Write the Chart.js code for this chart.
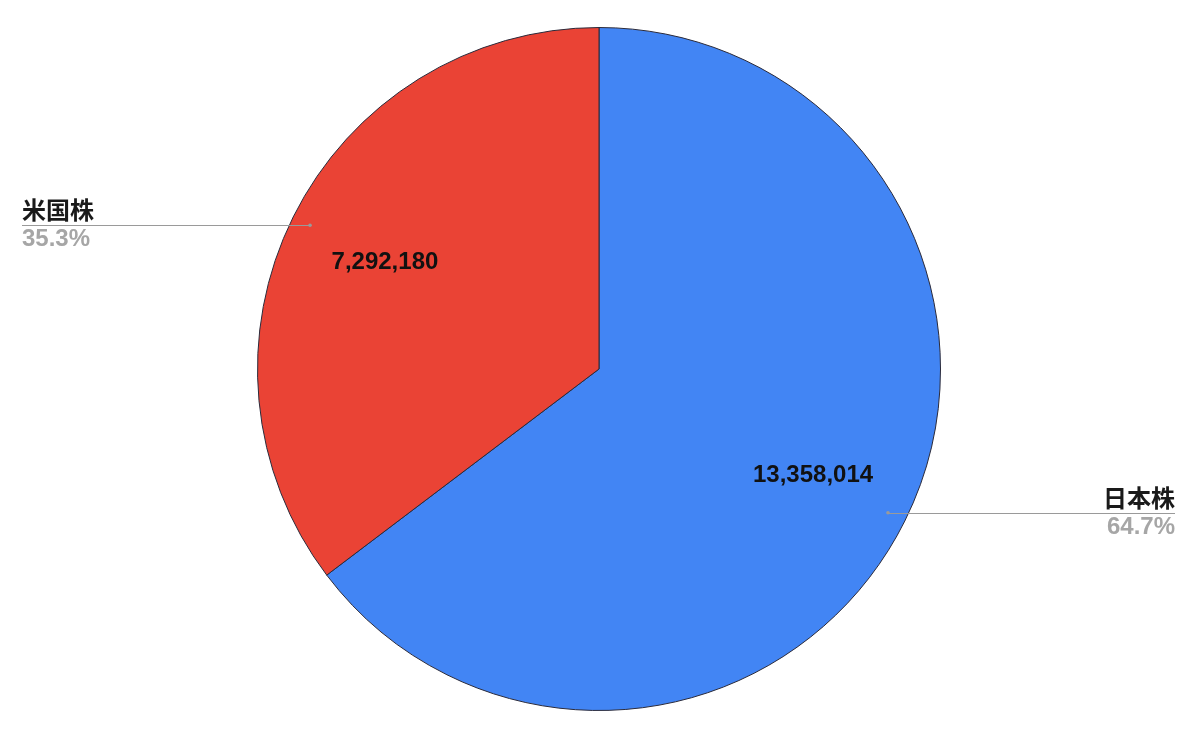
<!DOCTYPE html>
<html>
<head>
<meta charset="utf-8">
<script src="https://cdn.jsdelivr.net/npm/chart.js@4"></script>
<style>
  html, body { margin: 0; padding: 0; background: #fff; }
  #wrap { width: 1200px; height: 734px; }
</style>
</head>
<body>
<div id="wrap"><canvas id="myChart" width="1200" height="734"></canvas></div>
<script>
const labels = ['日本株', '米国株'];
const values = [13358014, 7292180];
const colors = ['#4285f4', '#ea4335'];

const fontStack = '"Liberation Sans", Arial, "Noto Sans CJK JP", sans-serif';

// leader lines, names, percents and values drawn on top of the pie
const sliceLabels = {
    id: 'sliceLabels',
    afterDatasetsDraw(chart) {
        const ctx = chart.ctx;
        const meta = chart.getDatasetMeta(0);
        const total = values.reduce((a, b) => a + b, 0);
        meta.data.forEach((arc, i) => {
            const mid = (arc.startAngle + arc.endAngle) / 2;
            const r = arc.outerRadius;
            const cx = arc.x, cy = arc.y;
            const cos = Math.cos(mid), sin = Math.sin(mid);

            // value inside slice
            ctx.save();
            ctx.font = 'bold 24px ' + fontStack;
            ctx.fillStyle = '#111';
            ctx.textAlign = 'center';
            ctx.textBaseline = 'middle';
            ctx.fillText(values[i].toLocaleString('en-US'), cx + cos * r * 0.7, cy + sin * r * 0.7);

            // leader line
            const px = cx + cos * r * 0.945;
            const py = cy + sin * r * 0.945;
            const right = cos > 0;
            const endX = right ? 1175 : 22;
            ctx.strokeStyle = '#9a9a9a';
            ctx.lineWidth = 1;
            ctx.beginPath();
            ctx.moveTo(px, Math.round(py) + 0.5);
            ctx.lineTo(endX, Math.round(py) + 0.5);
            ctx.stroke();
            ctx.fillStyle = '#9a9a9a';
            ctx.beginPath();
            ctx.arc(px, py, 1.8, 0, Math.PI * 2);
            ctx.fill();

            // name and percent
            ctx.textAlign = right ? 'right' : 'left';
            ctx.textBaseline = 'alphabetic';
            ctx.font = 'bold 24px ' + fontStack;
            ctx.fillStyle = '#1a1a1a';
            ctx.fillText(labels[i], endX, Math.round(py) - 6);
            ctx.fillStyle = '#a6a6a6';
            ctx.fillText((values[i] / total * 100).toFixed(1) + '%', endX, Math.round(py) + 21);
            ctx.restore();
        });
    }
};

new Chart(document.getElementById('myChart'), {
    type: 'pie',
    data: {
        labels: labels,
        datasets: [{
            data: values,
            backgroundColor: colors,
            borderColor: '#2a2a3a',
            borderWidth: 1
        }]
    },
    options: {
        responsive: false,
        animation: false,
        layout: { padding: { top: 27, bottom: 23, left: 0, right: 2 } },
        plugins: {
            legend: { display: false },
            tooltip: { enabled: false }
        }
    },
    plugins: [sliceLabels]
});
</script>
</body>
</html>
